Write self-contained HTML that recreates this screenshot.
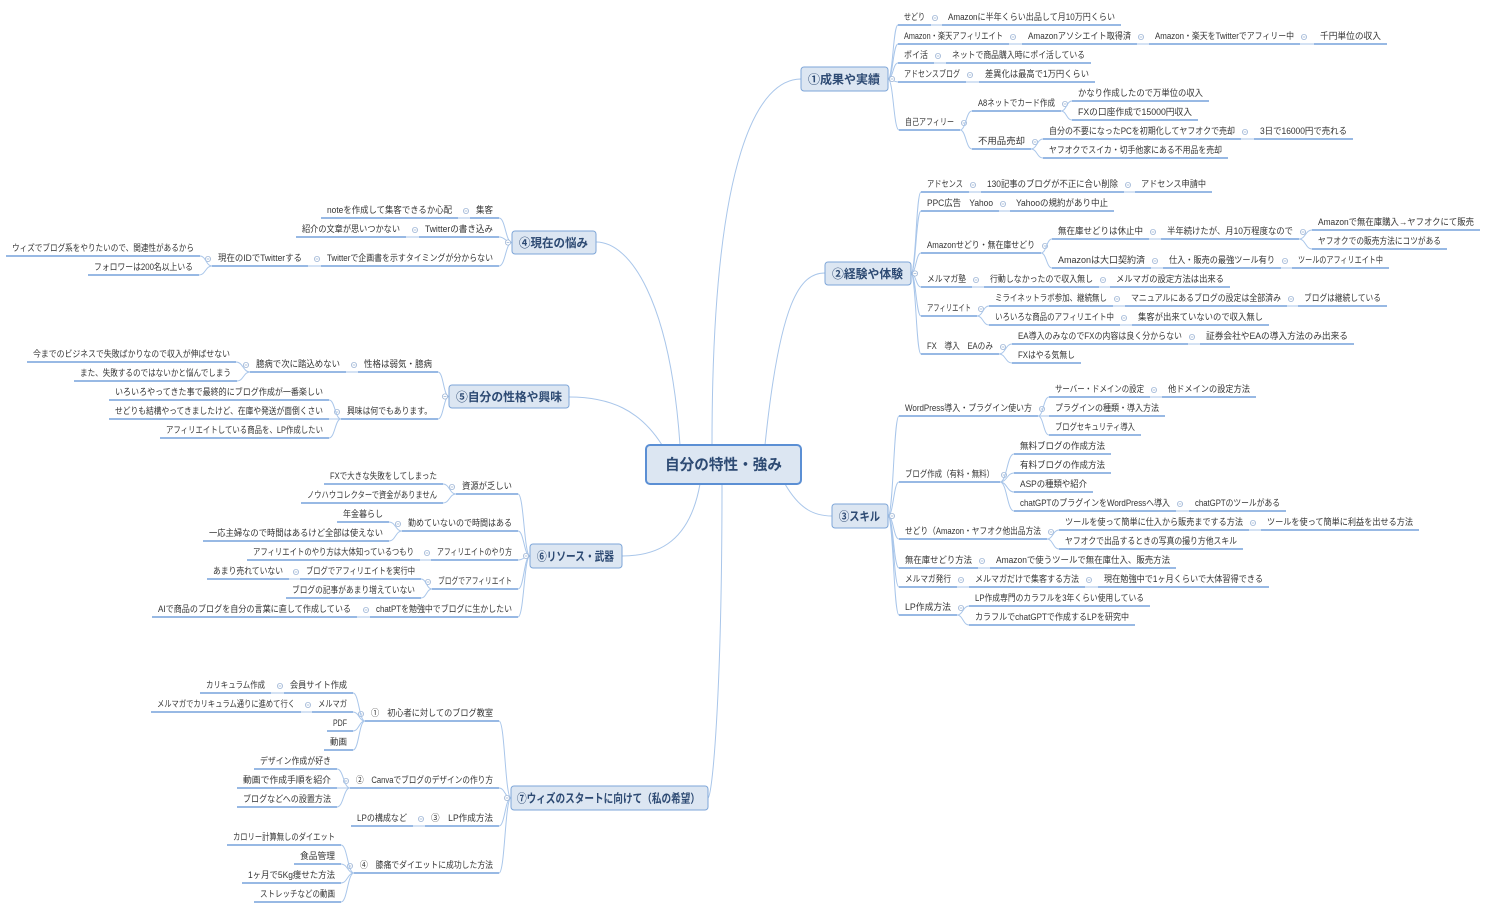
<!DOCTYPE html>
<html><head><meta charset="utf-8"><style>
html,body{margin:0;padding:0;background:#fff;}
svg{display:block;}
text{font-family:"Liberation Sans","Noto Sans CJK JP",sans-serif;font-size:9px;fill:#333;}
text.m{font-size:12px;fill:#2d4a73;font-weight:bold;}
text.c{font-size:15px;fill:#2d4a73;font-weight:bold;}
</style></head><body>
<svg id="s" width="1490" height="911" viewBox="0 0 1490 911" xmlns="http://www.w3.org/2000/svg">
<g id="lines" fill="none"></g>
<g fill="none" stroke="#a9c6ea" stroke-width="1">
<path d="M712,445 C712,150 760,79 801,79"/>
<path d="M765,445 C780,300 800,273 825,273"/>
<path d="M785,484 C800,510 815,516 832,516"/>
<path d="M680,445 C670,300 630,242 596,242"/>
<path d="M662,445 C640,410 610,397 569,397"/>
<path d="M700,484 C690,540 660,556 622,556"/>
<path d="M722,484 C722,700 712,798 708,798"/>
</g>
<rect x="646" y="445" width="155" height="39" rx="4" fill="#dce6f2" stroke="#5b8fd4" stroke-width="2"/>
<text class="c" x="665" y="469.5" textLength="117" lengthAdjust="spacingAndGlyphs">自分の特性・強み</text>

<g class="R"><rect x="801" y="67" width="87" height="24" rx="3" fill="#dce6f2" stroke="#7ea6d8"/><text class="m" x="808" y="83.5" textLength="72" lengthAdjust="spacingAndGlyphs">①成果や実績</text>
 <g class="n"><text x="904" y="20" textLength="21">せどり</text>
  <g class="n"><text x="948" y="20" textLength="167">Amazonに半年くらい出品して月10万円くらい</text></g></g>
 <g class="n"><text x="904" y="39" textLength="99">Amazon・楽天アフィリエイト</text>
  <g class="n"><text x="1028" y="39" textLength="103">Amazonアソシエイト取得済</text>
   <g class="n"><text x="1155" y="39" textLength="139">Amazon・楽天をTwitterでアフィリー中</text>
    <g class="n"><text x="1320" y="39" textLength="61">千円単位の収入</text></g></g></g></g>
 <g class="n"><text x="904" y="58" textLength="24">ポイ活</text>
  <g class="n"><text x="952" y="58" textLength="133">ネットで商品購入時にポイ活している</text></g></g>
 <g class="n"><text x="904" y="77" textLength="56">アドセンスブログ</text>
  <g class="n"><text x="985" y="77" textLength="104">差異化は最高で1万円くらい</text></g></g>
 <g class="n"><text x="905" y="125" textLength="49">自己アフィリー</text>
  <g class="n"><text x="978" y="106" textLength="77">A8ネットでカード作成</text>
   <g class="n"><text x="1078" y="96" textLength="125">かなり作成したので万単位の収入</text></g>
   <g class="n"><text x="1078" y="115" textLength="114">FXの口座作成で15000円収入</text></g></g>
  <g class="n"><text x="978" y="144" textLength="47">不用品売却</text>
   <g class="n"><text x="1049" y="134" textLength="186">自分の不要になったPCを初期化してヤフオクで売却</text>
    <g class="n"><text x="1260" y="134" textLength="87">3日で16000円で売れる</text></g></g>
   <g class="n"><text x="1049" y="153" textLength="173">ヤフオクでスイカ・切手他家にある不用品を売却</text></g></g></g>
</g>

<g class="R"><rect x="825" y="262" width="86" height="23" rx="3" fill="#dce6f2" stroke="#7ea6d8"/><text class="m" x="832" y="278" textLength="71" lengthAdjust="spacingAndGlyphs">②経験や体験</text>
 <g class="n"><text x="927" y="187" textLength="36">アドセンス</text>
  <g class="n"><text x="987" y="187" textLength="131">130記事のブログが不正に合い削除</text>
   <g class="n"><text x="1141" y="187" textLength="65">アドセンス申請中</text></g></g></g>
 <g class="n"><text x="927" y="206" textLength="66">PPC広告　Yahoo</text>
  <g class="n"><text x="1016" y="206" textLength="92">Yahooの規約があり中止</text></g></g>
 <g class="n"><text x="927" y="248" textLength="108">Amazonせどり・無在庫せどり</text>
  <g class="n"><text x="1058" y="234" textLength="85">無在庫せどりは休止中</text>
   <g class="n"><text x="1167" y="234" textLength="126">半年続けたが、月10万程度なので</text>
    <g class="n"><text x="1318" y="225" textLength="156">Amazonで無在庫購入→ヤフオクにて販売</text></g>
    <g class="n"><text x="1318" y="244" textLength="123">ヤフオクでの販売方法にコツがある</text></g></g></g>
  <g class="n"><text x="1058" y="263" textLength="87">Amazonは大口契約済</text>
   <g class="n"><text x="1169" y="263" textLength="106">仕入・販売の最強ツール有り</text>
    <g class="n"><text x="1298" y="263" textLength="85">ツールのアフィリエイト中</text></g></g></g></g>
 <g class="n"><text x="927" y="282" textLength="39">メルマガ塾</text>
  <g class="n"><text x="990" y="282" textLength="103">行動しなかったので収入無し</text>
   <g class="n"><text x="1116" y="282" textLength="108">メルマガの設定方法は出来る</text></g></g></g>
 <g class="n"><text x="927" y="311" textLength="44">アフィリエイト</text>
  <g class="n"><text x="995" y="301" textLength="112">ミライネットラボ参加、継続無し</text>
   <g class="n"><text x="1131" y="301" textLength="150">マニュアルにあるブログの設定は全部済み</text>
    <g class="n"><text x="1304" y="301" textLength="77">ブログは継続している</text></g></g></g>
  <g class="n"><text x="995" y="320" textLength="119">いろいろな商品のアフィリエイト中</text>
   <g class="n"><text x="1138" y="320" textLength="125">集客が出来ていないので収入無し</text></g></g></g>
 <g class="n"><text x="927" y="349" textLength="66">FX　導入　EAのみ</text>
  <g class="n"><text x="1018" y="339" textLength="164">EA導入のみなのでFXの内容は良く分からない</text>
   <g class="n"><text x="1206" y="339" textLength="142">証券会社やEAの導入方法のみ出来る</text></g></g>
  <g class="n"><text x="1018" y="358" textLength="57">FXはやる気無し</text></g></g>
</g>

<g class="R"><rect x="832" y="504" width="56" height="24" rx="3" fill="#dce6f2" stroke="#7ea6d8"/><text class="m" x="839" y="520.5" textLength="41" lengthAdjust="spacingAndGlyphs">③スキル</text>
 <g class="n"><text x="905" y="411" textLength="127">WordPress導入・プラグイン使い方</text>
  <g class="n"><text x="1055" y="392" textLength="89">サーバー・ドメインの設定</text>
   <g class="n"><text x="1168" y="392" textLength="82">他ドメインの設定方法</text></g></g>
  <g class="n"><text x="1055" y="411" textLength="104">プラグインの種類・導入方法</text></g>
  <g class="n"><text x="1055" y="430" textLength="80">ブログセキュリティ導入</text></g></g>
 <g class="n"><text x="905" y="477" textLength="89">ブログ作成（有料・無料）</text>
  <g class="n"><text x="1020" y="449" textLength="85">無料ブログの作成方法</text></g>
  <g class="n"><text x="1020" y="468" textLength="85">有料ブログの作成方法</text></g>
  <g class="n"><text x="1020" y="487" textLength="67">ASPの種類や紹介</text></g>
  <g class="n"><text x="1020" y="506" textLength="150">chatGPTのプラグインをWordPressへ導入</text>
   <g class="n"><text x="1195" y="506" textLength="85">chatGPTのツールがある</text></g></g></g>
 <g class="n"><text x="905" y="534" textLength="136">せどり（Amazon・ヤフオク他出品方法</text>
  <g class="n"><text x="1065" y="525" textLength="178">ツールを使って簡単に仕入から販売までする方法</text>
   <g class="n"><text x="1267" y="525" textLength="146">ツールを使って簡単に利益を出せる方法</text></g></g>
  <g class="n"><text x="1065" y="544" textLength="172">ヤフオクで出品するときの写真の撮り方他スキル</text></g></g>
 <g class="n"><text x="905" y="563" textLength="67">無在庫せどり方法</text>
  <g class="n"><text x="996" y="563" textLength="174">Amazonで使うツールで無在庫仕入、販売方法</text></g></g>
 <g class="n"><text x="905" y="582" textLength="46">メルマガ発行</text>
  <g class="n"><text x="975" y="582" textLength="104">メルマガだけで集客する方法</text>
   <g class="n"><text x="1104" y="582" textLength="159">現在勉強中で1ヶ月くらいで大体習得できる</text></g></g></g>
 <g class="n"><text x="905" y="610" textLength="46">LP作成方法</text>
  <g class="n"><text x="975" y="601" textLength="169">LP作成専門のカラフルを3年くらい使用している</text></g>
  <g class="n"><text x="975" y="620" textLength="154">カラフルでchatGPTで作成するLPを研究中</text></g></g>
</g>

<g class="L"><rect x="512" y="231" width="84" height="23" rx="3" fill="#dce6f2" stroke="#7ea6d8"/><text class="m" x="519" y="247" textLength="69" lengthAdjust="spacingAndGlyphs">④現在の悩み</text>
 <g class="n"><text x="476" y="213" textLength="17">集客</text>
  <g class="n"><text x="327" y="213" textLength="125">noteを作成して集客できるか心配</text></g></g>
 <g class="n"><text x="425" y="232" textLength="68">Twitterの書き込み</text>
  <g class="n"><text x="302" y="232" textLength="98">紹介の文章が思いつかない</text></g></g>
 <g class="n"><text x="327" y="261" textLength="166">Twitterで企画書を示すタイミングが分からない</text>
  <g class="n"><text x="218" y="261" textLength="84">現在のIDでTwitterする</text>
   <g class="n"><text x="12" y="251" textLength="182">ウィズでブログ系をやりたいので、関連性があるから</text></g>
   <g class="n"><text x="94" y="270" textLength="99">フォロワーは200名以上いる</text></g></g></g>
</g>

<g class="L"><rect x="449" y="385" width="120" height="23" rx="3" fill="#dce6f2" stroke="#7ea6d8"/><text class="m" x="456" y="401" textLength="106" lengthAdjust="spacingAndGlyphs">⑤自分の性格や興味</text>
 <g class="n"><text x="364" y="367" textLength="68">性格は弱気・臆病</text>
  <g class="n"><text x="256" y="367" textLength="84">臆病で次に踏込めない</text>
   <g class="n"><text x="33" y="357" textLength="197">今までのビジネスで失敗ばかりなので収入が伸ばせない</text></g>
   <g class="n"><text x="80" y="376" textLength="151">また、失敗するのではないかと悩んでしまう</text></g></g></g>
 <g class="n"><text x="347" y="414" textLength="85">興味は何でもあります。</text>
  <g class="n"><text x="115" y="395" textLength="208">いろいろやってきた事で最終的にブログ作成が一番楽しい</text></g>
  <g class="n"><text x="115" y="414" textLength="208">せどりも結構やってきましたけど、在庫や発送が面倒くさい</text></g>
  <g class="n"><text x="166" y="433" textLength="157">アフィリエイトしている商品を、LP作成したい</text></g></g>
</g>

<g class="L"><rect x="530" y="544" width="92" height="24" rx="3" fill="#dce6f2" stroke="#7ea6d8"/><text class="m" x="537" y="560.5" textLength="77" lengthAdjust="spacingAndGlyphs">⑥リソース・武器</text>
 <g class="n"><text x="462" y="489" textLength="50">資源が乏しい</text>
  <g class="n"><text x="330" y="479" textLength="107">FXで大きな失敗をしてしまった</text></g>
  <g class="n"><text x="307" y="498" textLength="130">ノウハウコレクターで資金がありません</text></g></g>
 <g class="n"><text x="408" y="526" textLength="104">勤めていないので時間はある</text>
  <g class="n"><text x="343" y="517" textLength="40">年金暮らし</text></g>
  <g class="n"><text x="209" y="536" textLength="174">一応主婦なので時間はあるけど全部は使えない</text></g></g>
 <g class="n"><text x="437" y="555" textLength="75">アフィリエイトのやり方</text>
  <g class="n"><text x="253" y="555" textLength="161">アフィリエイトのやり方は大体知っているつもり</text></g></g>
 <g class="n"><text x="438" y="584" textLength="74">ブログでアフィリエイト</text>
  <g class="n"><text x="306" y="574" textLength="109">ブログでアフィリエイトを実行中</text>
   <g class="n"><text x="213" y="574" textLength="70">あまり売れていない</text></g></g>
  <g class="n"><text x="292" y="593" textLength="123">ブログの記事があまり増えていない</text></g></g>
 <g class="n"><text x="376" y="612" textLength="136">chatPTを勉強中でブログに生かしたい</text>
  <g class="n"><text x="158" y="612" textLength="193">AIで商品のブログを自分の言葉に直して作成している</text></g></g>
</g>

<g class="L"><rect x="511" y="786" width="197" height="24" rx="3" fill="#dce6f2" stroke="#7ea6d8"/><text class="m" x="517" y="802.5" textLength="183" lengthAdjust="spacingAndGlyphs">⑦ウィズのスタートに向けて（私の希望）</text>
 <g class="n"><text x="371" y="716" textLength="122">①　初心者に対してのブログ教室</text>
  <g class="n"><text x="290" y="688" textLength="57">会員サイト作成</text>
   <g class="n"><text x="206" y="688" textLength="59">カリキュラム作成</text></g></g>
  <g class="n"><text x="318" y="707" textLength="29">メルマガ</text>
   <g class="n"><text x="157" y="707" textLength="138">メルマガでカリキュラム通りに進めて行く</text></g></g>
  <g class="n"><text x="333" y="726" textLength="14">PDF</text></g>
  <g class="n"><text x="330" y="745" textLength="17">動画</text></g></g>
 <g class="n"><text x="356" y="783" textLength="137">②　Canvaでブログのデザインの作り方</text>
  <g class="n"><text x="260" y="764" textLength="71">デザイン作成が好き</text></g>
  <g class="n"><text x="243" y="783" textLength="88">動画で作成手順を紹介</text></g>
  <g class="n"><text x="243" y="802" textLength="88">ブログなどへの設置方法</text></g></g>
 <g class="n"><text x="431" y="821" textLength="62">③　LP作成方法</text>
  <g class="n"><text x="357" y="821" textLength="50">LPの構成など</text></g></g>
 <g class="n"><text x="360" y="868" textLength="133">④　膝痛でダイエットに成功した方法</text>
  <g class="n"><text x="233" y="840" textLength="102">カロリー計算無しのダイエット</text></g>
  <g class="n"><text x="300" y="859" textLength="35">食品管理</text></g>
  <g class="n"><text x="248" y="878" textLength="87">1ヶ月で5Kg痩せた方法</text></g>
  <g class="n"><text x="260" y="897" textLength="75">ストレッチなどの動画</text></g></g>
</g>
</svg>
<script>
(function(){
var NS="http://www.w3.org/2000/svg",L=document.getElementById("lines");
function el(n,a){var e=document.createElementNS(NS,n);for(var k in a)e.setAttribute(k,a[k]);L.appendChild(e);return e;}
function path(ax,ay,bx,by){var m=(ax+bx)/2;el("path",{d:"M"+ax+","+ay+" C"+m+","+ay+" "+m+","+by+" "+bx+","+by,stroke:"#a9c6ea","stroke-width":1});}
function circ(x,y){el("circle",{cx:x,cy:y,r:2.6,fill:"#fff",stroke:"#9fb6d6","stroke-width":0.8});el("line",{x1:x-1.4,y1:y,x2:x+1.4,y2:y,stroke:"#9fb6d6","stroke-width":0.8});}
function kids(g){var r=[];for(var i=0;i<g.children.length;i++){var c=g.children[i];if(c.tagName.toLowerCase()=="g")r.push(c);}return r;}
function proc(g,R,ax,ay){
 kids(g).forEach(function(n){
  var t=n.querySelector("text"),x=+t.getAttribute("x"),l=+t.getAttribute("textLength"),y=+t.getAttribute("y");
  t.setAttribute("lengthAdjust","spacingAndGlyphs");
  var x1=x-6,x2=x+l+6,uy=y+5;
  el("line",{x1:x1,y1:uy,x2:x2,y2:uy,stroke:"#5b8fd4","stroke-width":1.3});
  path(ax,ay,R?x1:x2,uy);
  if(kids(n).length){var e=R?x2:x1;circ(R?e+4:e-4,y-2);proc(n,R,e,uy);}
 });
}
document.querySelectorAll("g.R,g.L").forEach(function(g){
 var R=g.classList.contains("R"),r=g.querySelector("rect"),x=+r.getAttribute("x"),w=+r.getAttribute("width"),y=+r.getAttribute("y"),h=+r.getAttribute("height");
 var ax=R?x+w:x,ay=y+h/2;
 proc(g,R,ax,ay);
 circ(R?ax+4:ax-4,ay);
});
})();
</script>
</body></html>
